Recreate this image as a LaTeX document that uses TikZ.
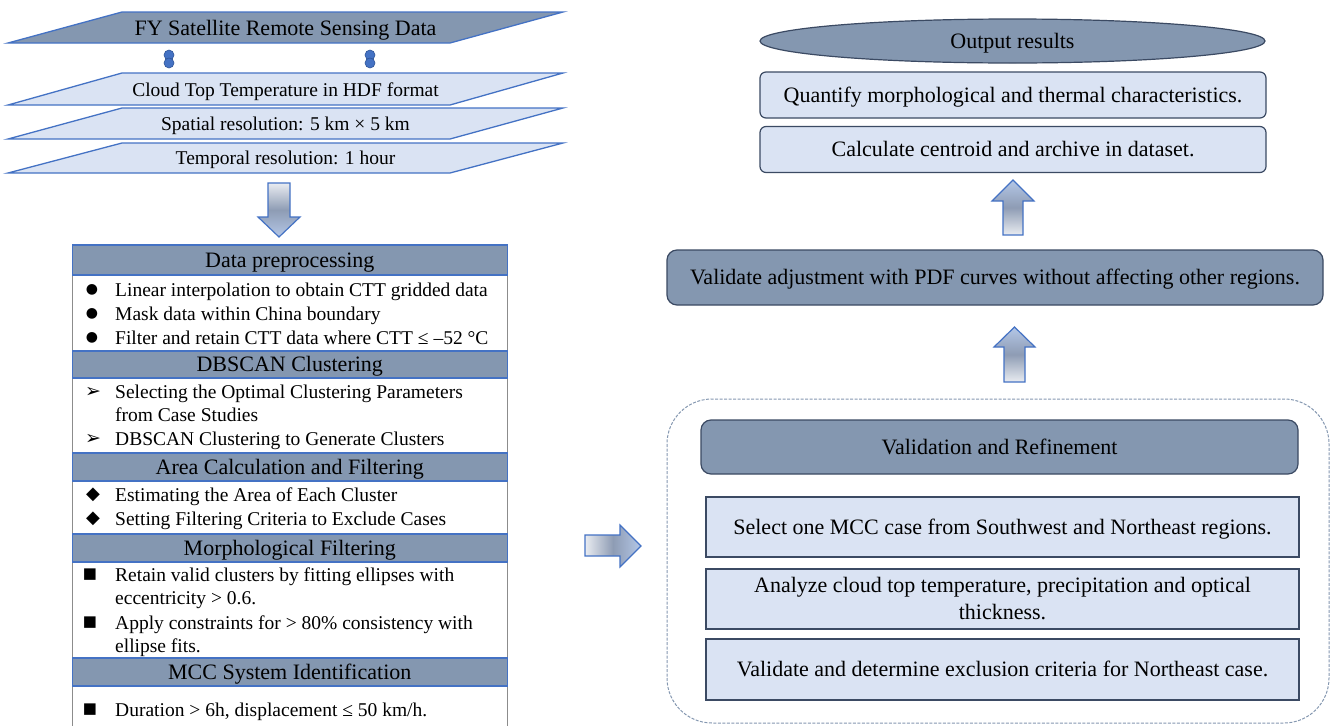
\documentclass[tikz,border=0pt]{standalone}
\usepackage{fontspec}
\setmainfont{Liberation Serif}
\newfontfamily\symfont{DejaVu Sans}
\usetikzlibrary{shapes.geometric}
\definecolor{hdr}{HTML}{8497B0}
\definecolor{lite}{HTML}{DAE3F3}
\definecolor{bblue}{HTML}{4472C4}
\definecolor{dblue}{HTML}{2F5597}
\definecolor{dkedge}{HTML}{3B4A63}
\definecolor{bodyedge}{HTML}{8C8C8C}
\definecolor{arrtail}{HTML}{E9ECF1}
\definecolor{arrmid}{HTML}{8E9CB4}
\definecolor{arrhead}{HTML}{B4C7E7}
\begin{document}
\begin{tikzpicture}[x=1pt,y=-1pt,
  para/.style={draw=bblue, line width=1.3pt, line join=miter},
  ptxt/.style={inner sep=0pt, anchor=base, font=\fontsize{19.5}{23}\selectfont},
  onel/.style={text height=15pt, text depth=1pt},
  hdrbox/.style={draw=bblue, line width=1.2pt, fill=hdr, minimum width=435pt, inner sep=0pt, font=\fontsize{22}{26}\selectfont, onel},
  btxt/.style={inner sep=0pt, anchor=base west, font=\fontsize{19.5}{23}\selectfont},
  bul/.style={inner sep=0pt, font=\symfont\fontsize{14}{14}\selectfont},
  rbox/.style={draw=dkedge, line width=1.2pt, fill=lite, rounded corners=6pt, inner sep=0pt, font=\fontsize{22}{26}\selectfont, onel},
  rdark/.style={draw=dkedge, line width=1.2pt, fill=hdr, rounded corners=10pt, inner sep=0pt, font=\fontsize{22}{26}\selectfont, onel},
  sbox/.style={draw=dkedge, line width=1.2pt, fill=lite, inner sep=0pt, minimum width=593pt, minimum height=60pt, font=\fontsize{22}{27}\selectfont},
  dotn/.style={circle, fill=bblue, draw=dblue, line width=0.6pt, minimum size=10pt, inner sep=0pt},
  blockarrow/.style={draw=bblue, line width=1.2pt, line join=miter}
]
\useasboundingbox (0,0) rectangle (1331,726);

% ---------- top-left stack of parallelograms ----------
\path[para, fill=hdr] (8,43) -- (450,43) -- (563,12) -- (122,12) -- cycle;
\node[ptxt, font=\fontsize{22}{26}\selectfont] (fy) at (285.5,35.5) {FY Satellite Remote Sensing Data};

\node[dotn] (d1a) at (169,55) {};
\node[dotn] (d1b) at (169,63) {};
\node[dotn] (d2a) at (370,55) {};
\node[dotn] (d2b) at (370,63) {};

\path[para, fill=lite] (8,105) -- (450,105) -- (563,73) -- (122,73) -- cycle;
\node[ptxt] (ctt) at (285.5,96.5) {Cloud Top Temperature in HDF format};
\path[para, fill=lite] (8,139) -- (450,139) -- (563,108) -- (122,108) -- cycle;
\node[ptxt] (spat) at (285.5,130.5) {Spatial resolution: 5 km × 5 km};
\path[para, fill=lite] (8,173) -- (450,173) -- (563,143) -- (122,143) -- cycle;
\node[ptxt] (temp) at (285.5,164.5) {Temporal resolution: 1 hour};

% down arrow
\path[blockarrow, top color=arrtail, bottom color=arrhead, middle color=arrmid]
  (268,183) -- (290,183) -- (290,217) -- (300,217) -- (279,237) -- (258,217) -- (268,217) -- cycle;

% ---------- left processing box ----------
\fill[white] (72.5,245) rectangle (507,726);
\draw[bodyedge, line width=1pt] (72.5,260) -- (72.5,726);
\draw[bodyedge, line width=1pt] (507,260) -- (507,726);

\node[hdrbox, minimum height=30pt] (hdp) at (289.75,260) {Data preprocessing};
\node[bul] (b11) at (92,290) {●};
\node[btxt] (t11) at (115,296) {Linear interpolation to obtain CTT gridded data};
\node[bul] (b12) at (92,314) {●};
\node[btxt] (t12) at (115,320) {Mask data within China boundary};
\node[bul] (b13) at (92,338) {●};
\node[btxt] (t13) at (115,344) {Filter and retain CTT data where CTT ≤ –52 °C};

\node[hdrbox, minimum height=27pt] (hdb) at (289.75,364.5) {DBSCAN Clustering};
\node[bul, font=\symfont\fontsize{19}{19}\selectfont] (b21) at (93,392) {➢};
\node[btxt] (t21) at (115,398) {Selecting the Optimal Clustering Parameters};
\node[btxt] (t21b) at (115,421) {from Case Studies};
\node[bul, font=\symfont\fontsize{19}{19}\selectfont] (b22) at (93,439) {➢};
\node[btxt] (t22) at (115,445) {DBSCAN Clustering to Generate Clusters};

\node[hdrbox, minimum height=28pt] (hda) at (289.75,467) {Area Calculation and Filtering};
\node[bul, font=\symfont\fontsize{18}{18}\selectfont] (b31) at (93,495) {◆};
\node[btxt] (t31) at (115,501) {Estimating the Area of Each Cluster};
\node[bul, font=\symfont\fontsize{18}{18}\selectfont] (b32) at (93,519) {◆};
\node[btxt] (t32) at (115,525) {Setting Filtering Criteria to Exclude Cases};

\node[hdrbox, minimum height=28pt] (hdm) at (289.75,548) {Morphological Filtering};
\node[bul, font=\symfont\fontsize{15}{15}\selectfont] (b41) at (90,575) {■};
\node[btxt] (t41) at (115,581) {Retain valid clusters by fitting ellipses with};
\node[btxt] (t41b) at (115,604) {eccentricity > 0.6.};
\node[bul, font=\symfont\fontsize{15}{15}\selectfont] (b42) at (90,623) {■};
\node[btxt] (t42) at (115,629) {Apply constraints for > 80\% consistency with};
\node[btxt] (t42b) at (115,652) {ellipse fits.};

\node[hdrbox, minimum height=28pt] (hdc) at (289.75,672) {MCC System Identification};
\node[bul, font=\symfont\fontsize{15}{15}\selectfont] (b51) at (90,710) {■};
\node[btxt] (t51) at (115,716) {Duration > 6h, displacement ≤ 50 km/h.};

% right arrow
\path[blockarrow, left color=arrtail, right color=arrhead, middle color=arrmid]
  (585,535) -- (620,535) -- (620,525) -- (641,546) -- (620,567) -- (620,556) -- (585,556) -- cycle;

% ---------- right side ----------
\node[ellipse, draw=dkedge, line width=1.2pt, fill=hdr, minimum width=505pt, minimum height=44pt, inner sep=0pt, font=\fontsize{22}{26}\selectfont, onel] (out) at (1012.5,41) {Output results};
\node[rbox, minimum width=506pt, minimum height=46pt] (quant) at (1013,95) {Quantify morphological and thermal characteristics.};
\node[rbox, minimum width=506pt, minimum height=46pt] (calc) at (1013,149.5) {Calculate centroid and archive in dataset.};

\path[blockarrow, top color=arrhead, bottom color=arrtail, middle color=arrmid]
  (1003,235) -- (1023,235) -- (1023,201) -- (1034,201) -- (1013,180) -- (992,201) -- (1003,201) -- cycle;

\node[rdark, minimum width=656pt, minimum height=55pt] (valpdf) at (995,277.5) {Validate adjustment with PDF curves without affecting other regions.};

\path[blockarrow, top color=arrhead, bottom color=arrtail, middle color=arrmid]
  (1004,382) -- (1025,382) -- (1025,347) -- (1035,347) -- (1014.5,327) -- (994,347) -- (1004,347) -- cycle;

\draw[hdr, line width=1pt, dash pattern=on 3pt off 1.5pt, rounded corners=45pt] (667,399) rectangle (1329,723);

\node[rdark, minimum width=597pt, minimum height=54pt] (vr) at (999.5,447) {Validation and Refinement};
\node[sbox, onel] (sel) at (1002.5,527) {Select one MCC case from Southwest and Northeast regions.};
\node[sbox, align=center] (ana) at (1002.5,599) {Analyze cloud top temperature, precipitation and optical\\thickness.};
\node[sbox, onel, minimum height=61pt] (valne) at (1002.5,669.5) {Validate and determine exclusion criteria for Northeast case.};
\end{tikzpicture}
\end{document}
